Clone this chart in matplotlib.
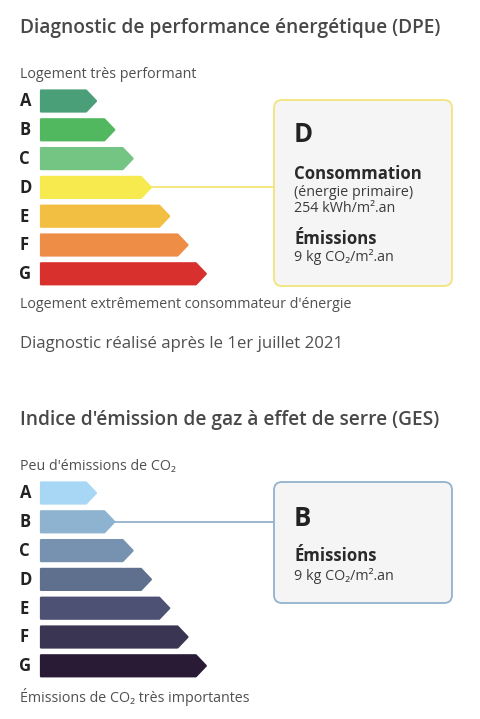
import matplotlib
matplotlib.use("Agg")
import matplotlib.pyplot as plt
from matplotlib.patches import Polygon, FancyBboxPatch

plt.rcParams['font.family'] = ['Open Sans', 'DejaVu Sans']

# données
grades = ['A', 'B', 'C', 'D', 'E', 'F', 'G']
dpe_colors = ['#4a9e78', '#52b860', '#74c484', '#f7ea4f', '#f3bf42', '#ee8d46', '#d8302c']
ges_colors = ['#a8d7f5', '#8db3d1', '#7791b0', '#5f6f8e', '#4d5275', '#3a3552', '#291b35']
dpe_grade = 'D'
dpe_conso = 254
dpe_emissions = 9
ges_grade = 'B'
ges_emissions = 9

TXT = '#3c3c3c'
TXT2 = '#505050'
SMALL = 10.3


def draw_scale(ax, y0, colors, selected, box_top, box_bottom, box_edge, line_color, lines):
    # barres en flèche
    for i, (g, c) in enumerate(zip(grades, colors)):
        yc = y0 + i * 28.8
        tip = 96 + i * 18.3
        h = 10.5
        pts = [(41, yc - h), (tip - 10, yc - h), (tip, yc), (tip - 10, yc + h), (41, yc + h)]
        ax.add_patch(Polygon(pts, closed=True, facecolor=c, edgecolor=c, lw=1.6,
                             joinstyle='round', zorder=3))
        ax.text(19.5, yc + 0.5, g, fontsize=12, fontweight='bold', color='#222222',
                ha='left', va='center')
        if g == selected:
            ax.plot([tip, 274], [yc, yc], color=line_color, lw=1.2, zorder=2)
    # encadré
    ax.add_patch(FancyBboxPatch((274, box_top), 178, box_bottom - box_top,
                                boxstyle='round,pad=0,rounding_size=8',
                                facecolor='#f5f5f6', edgecolor=box_edge, lw=1.3, zorder=2))
    for (y, s, size, weight, col) in lines:
        ax.text(294, y + 1, s, fontsize=size, fontweight=weight, color=col, ha='left', va='center')


fig = plt.figure(figsize=(4.8, 7.19), dpi=100)
ax = fig.add_axes([0, 0, 1, 1])
ax.set_xlim(0, 480)
ax.set_ylim(719, 0)
ax.axis('off')

# DPE
ax.text(20, 28.5, 'Diagnostic de performance énergétique (DPE)', fontsize=13.8,
        fontweight='semibold', color='#484848', ha='left', va='center')
ax.text(20, 74.5, 'Logement très performant', fontsize=SMALL, color=TXT2, ha='left', va='center')
draw_scale(ax, 101, dpe_colors, dpe_grade, 100, 286, '#f2e47c', '#f2e46a', [
    (134, dpe_grade, 18.5, 'bold', '#222222'),
    (173, 'Consommation', 12.1, 'bold', '#2a2a2a'),
    (192, '(énergie primaire)', SMALL, 'normal', TXT),
    (208, f'{dpe_conso} kWh/m².an', SMALL, 'normal', TXT),
    (238, 'Émissions', 12.1, 'bold', '#2a2a2a'),
    (256, f'{dpe_emissions} kg CO₂/m².an', SMALL, 'normal', TXT),
])
ax.text(20, 304.5, "Logement extrêmement consommateur d'énergie", fontsize=SMALL, color=TXT2,
        ha='left', va='center')
ax.text(20, 344.5, 'Diagnostic réalisé après le 1er juillet 2021', fontsize=12.1, color=TXT2,
        ha='left', va='center')

# GES
ax.text(20, 419.5, "Indice d'émission de gaz à effet de serre (GES)", fontsize=13.8,
        fontweight='semibold', color='#484848', ha='left', va='center')
ax.text(20, 466.5, "Peu d'émissions de CO₂", fontsize=SMALL, color=TXT2, ha='left', va='center')
draw_scale(ax, 493, ges_colors, ges_grade, 482, 603, '#93b2cd', '#8aaac6', [
    (517, ges_grade, 18.5, 'bold', '#222222'),
    (555, 'Émissions', 12.1, 'bold', '#2a2a2a'),
    (575, f'{ges_emissions} kg CO₂/m².an', SMALL, 'normal', TXT),
])
ax.text(20, 697.5, 'Émissions de CO₂ très importantes', fontsize=SMALL, color=TXT2,
        ha='left', va='center')

fig.savefig('out.png', dpi=100, facecolor='white')
